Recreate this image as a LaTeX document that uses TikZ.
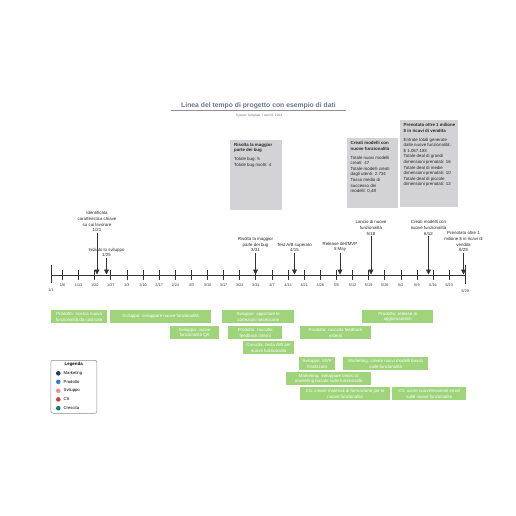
\documentclass[tikz,border=0pt]{standalone}
\usepackage{fontspec}
\setmainfont{Liberation Sans}
\usetikzlibrary{arrows.meta}
\definecolor{barg}{HTML}{9FD47B}
\definecolor{boxg}{HTML}{D3D3D5}
\definecolor{titc}{HTML}{6B7585}
\definecolor{axc}{HTML}{333333}
\definecolor{cmark}{HTML}{1F3A6E}
\definecolor{cprod}{HTML}{3A7BD5}
\definecolor{csvil}{HTML}{F08C8C}
\definecolor{ccs}{HTML}{C8403F}
\definecolor{ccres}{HTML}{0F7B72}
\newcommand\smallfs{\fontsize{4.4}{5.6}\selectfont}
\newcommand\tickfs{\fontsize{3.8}{4.5}\selectfont}
\begin{document}
\begin{tikzpicture}[x=1pt,y=-1pt,
  bar/.style={fill=barg,draw=none,text=white,align=center,inner sep=0pt,font=\smallfs},
  greybox/.style={fill=boxg,draw=none,inner sep=0pt},
  boxtext/.style={anchor=north west,align=left,inner sep=0pt,font=\smallfs,text=black!85},
  mslabel/.style={anchor=south,align=center,inner sep=0.6pt,font=\smallfs,text=black!85},
  msarrow/.style={draw=axc,line width=0.8pt,-{Triangle[length=5pt,width=5pt]}},
  tickline/.style={draw=axc,line width=0.8pt},
  ticklab/.style={font=\tickfs,text=black!80,inner sep=0pt},
  legdot/.style={circle,inner sep=0pt,minimum size=4.6pt,draw=none}]
\useasboundingbox (0,0) rectangle (516,516);
\fill[white] (0,0) rectangle (516,516);
% title
\node[font=\fontsize{6.8}{8}\selectfont\bfseries,text=titc] (title) at (258.5,105.5) {Linea del tempo di progetto con esempio di dati};
\coordinate (ul1) at (171,110.8);
\coordinate (ul2) at (346,110.8);
\draw[draw=titc!80,line width=0.6pt] (ul1) -- (ul2);
\node[font=\fontsize{3.2}{4}\selectfont,text=titc] (subt) at (259,115.3) {System Template \,|\, April 8, 2024};
% axis
\coordinate (a0) at (51,275);
\coordinate (a1) at (465.3,275);
\draw[draw=axc,line width=1pt] (a0) -- (a1);
\coordinate (s0) at (51,265);
\coordinate (s0b) at (51,283);
\draw[tickline] (s0) -- (s0b);
\node[ticklab] (l0) at (51,290.5) {1/1};
\coordinate (e0) at (465.3,265);
\coordinate (e0b) at (465.3,284);
\draw[tickline] (e0) -- (e0b);
\node[ticklab] (le) at (465.3,291.5) {6/29};
\foreach \d/\lab [count=\i] in {5/1\slash 6,12/1\slash 13,19/1\slash 20,26/1\slash 27,33/2\slash 3,40/2\slash 10,47/2\slash 17,54/2\slash 24,61/3\slash 3,68/3\slash 10,75/3\slash 17,82/3\slash 24,89/3\slash 31,96/4\slash 7,103/4\slash 14,110/4\slash 21,117/4\slash 28,124/5\slash 5,131/5\slash 12,138/5\slash 19,145/5\slash 26,152/6\slash 2,159/6\slash 9,166/6\slash 16,173/6\slash 23}{
  \coordinate (tk\i) at ({51+2.302*\d},270);
  \coordinate (tkb\i) at ({51+2.302*\d},280);
  \draw[tickline] (tk\i) -- (tkb\i);
  \node[ticklab] (tl\i) at ({51+2.302*\d},285.5) {\lab};
}
% milestones
\node[mslabel] (m1) at (97,232.5) {Identificata\\caratteristica chiave\\su cui lavorare\\1/21};
\coordinate (t1) at (97,274.5);
\draw[msarrow] (m1.south) -- (t1);
\node[mslabel] (m2) at (106.5,257.5) {Iniziato lo sviluppo\\1/25};
\coordinate (t2) at (106.5,274.5);
\draw[msarrow] (m2.south) -- (t2);
\node[mslabel] (m3) at (255.5,252.5) {Risolta la maggior\\parte dei bug\\3/31};
\coordinate (t3) at (255.5,274.5);
\draw[msarrow] (m3.south) -- (t3);
\node[mslabel] (m4) at (294.5,252.5) {Test A/B superato\\4/15};
\coordinate (t4) at (294.5,274.5);
\draw[msarrow] (m4.south) -- (t4);
\node[mslabel] (m5) at (340,252.5) {Release dell'MVP\\5 May};
\coordinate (t5) at (340,274.5);
\draw[msarrow] (m5.south) -- (t5);
\node[mslabel] (m6) at (371,236) {Lancio di nuove\\funzionalità\\5/18};
\coordinate (t6) at (371,274.5);
\draw[msarrow] (m6.south) -- (t6);
\node[mslabel] (m7) at (428.5,236) {Creati modelli con\\nuove funzionalità\\6/12};
\coordinate (t7) at (428.5,274.5);
\draw[msarrow] (m7.south) -- (t7);
\node[mslabel] (m8) at (463.5,252.5) {Prenotato oltre 1\\milione \$ in ricavi di\\vendita\\6/29};
\coordinate (t8) at (463.5,274.5);
\draw[msarrow] (m8.south) -- (t8);
% grey boxes
\node[greybox,anchor=north west,minimum width=52pt,minimum height=70pt] (g1) at (230,140) {};
\node[boxtext] (g1t) at ([xshift=4pt,yshift=-3pt]g1.north west) {\textbf{Risolta la maggior}\\\textbf{parte dei bug}\\[3pt]Totale bug: 5\\Totale bug risolti: 4};
\node[greybox,anchor=north west,minimum width=51pt,minimum height=70pt] (g2) at (347,138) {};
\node[boxtext] (g2t) at ([xshift=3.5pt,yshift=-3.5pt]g2.north west) {\textbf{Creati modelli con}\\\textbf{nuove funzionalità}\\[3pt]Totale nuovi modelli\\creati: 47\\Totale modelli creati\\dagli utenti: 2.734\\Tasso medio di\\successo dei\\modelli: 0,48};
\node[greybox,anchor=north west,minimum width=58pt,minimum height=87pt] (g3) at (400,120) {};
\node[boxtext] (g3t) at ([xshift=3.5pt,yshift=-3.5pt]g3.north west) {\textbf{Prenotato oltre 1 milione}\\\textbf{\$ in ricavi di vendita}\\[3pt]Entrate totali generate\\dalle nuove funzionalità:\\\$ 1.067.183\\Totale deal di grandi\\dimensioni prenotati: 16\\Totale deal di medie\\dimensioni prenotati: 10\\Totale deal di piccole\\dimensioni prenotati: 12};
% green bars
\node[bar,anchor=north west,minimum width=56pt,minimum height=13pt] (b1) at (51,310) {Prodotto: ricerca nuova\\funzionalità da costruire};
\node[bar,anchor=north west,minimum width=101pt,minimum height=13pt] (b2) at (110,310) {Sviluppo: sviluppare nuove funzionalità};
\node[bar,anchor=north west,minimum width=49pt,minimum height=13pt] (b3) at (170,326) {Sviluppo: nuove\\funzionalità QA};
\node[bar,anchor=north west,minimum width=72pt,minimum height=13pt] (b4) at (222,310) {Sviluppo: apportare le\\correzioni necessarie};
\node[bar,anchor=north west,minimum width=54pt,minimum height=13pt] (b5) at (228,326) {Prodotto: raccolta\\feedback interni};
\node[bar,anchor=north west,minimum width=51pt,minimum height=13pt] (b6) at (243,341) {Crescita: testa A/B per\\nuove funzionalità};
\node[bar,anchor=north west,minimum width=71pt,minimum height=13pt] (b7) at (300,326) {Prodotto: raccolta feedback\\esterni};
\node[bar,anchor=north west,minimum width=71pt,minimum height=13pt] (b8) at (362,310) {Prodotto: release di\\aggiornamenti};
\node[bar,anchor=north west,minimum width=36pt,minimum height=13pt] (b9) at (299,357) {Sviluppo: MVP\\finalizzato};
\node[bar,anchor=north west,minimum width=85pt,minimum height=13pt] (b10) at (343,357) {Marketing: creare nuovi modelli basati\\sulle funzionalità};
\node[bar,anchor=north west,minimum width=85pt,minimum height=13pt] (b11) at (286,372) {Marketing: sviluppare lancio di\\marketing basato sulle funzionalità};
\node[bar,anchor=north west,minimum width=90pt,minimum height=13pt] (b12) at (300,387) {CS: creare materiali di formazione per le\\nuove funzionalità};
\node[bar,anchor=north west,minimum width=74pt,minimum height=13pt] (b13) at (392,387) {CS: usare nuove/esistenti email\\sulle nuove funzionalità};
% legend
\node[draw=black!45,line width=0.5pt,rounded corners=2pt,fill=white,anchor=north west,minimum width=46pt,minimum height=53pt,inner sep=0pt] (leg) at (50.7,360) {};
\node[font=\fontsize{4.4}{5}\selectfont\bfseries,inner sep=0pt] (legt) at (73.7,364.5) {Legenda};
\foreach \c/\t/\yy [count=\i] in {cmark/Marketing/373.3,cprod/Prodotto/381.8,csvil/Sviluppo/390.8,ccs/CS/399.4,ccres/Crescita/408.2}{
  \node[legdot,fill=\c] (ld\i) at (58.3,\yy) {};
  \node[font=\fontsize{4.2}{5}\selectfont,anchor=west,inner sep=0pt] (lt\i) at (63.5,\yy) {\t};
}
\end{tikzpicture}
\end{document}
